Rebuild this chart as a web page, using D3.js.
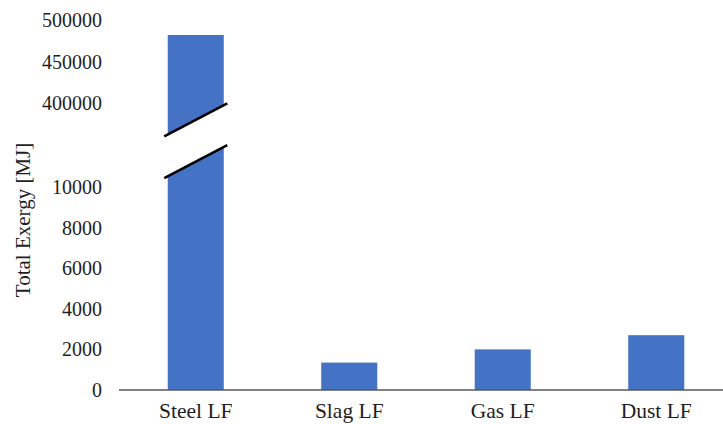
<!DOCTYPE html>
<html>
<head>
<meta charset="utf-8">
<script src="https://cdn.jsdelivr.net/npm/d3@7/dist/d3.min.js"></script>
<style>
  html, body { margin: 0; padding: 0; background: #fff; }
  svg { display: block; }
  text { font-family: "Liberation Serif", "Times New Roman", serif; fill: #1f1f1f; }
</style>
</head>
<body>
<svg id="chart" width="723" height="424"></svg>
<script>
// Total exergy of the ladle-furnace streams
const categories = ["Steel LF", "Slag LF", "Gas LF", "Dust LF"];
const exergy = [482000, 1350, 2000, 2700];

// Broken value axis: a low segment and a high segment
const lowTicks = [0, 2000, 4000, 6000, 8000, 10000];
const highTicks = [400000, 450000, 500000];
const lowDomain = [0, 10000];
const highDomain = [400000, 500000];
// Values at which the break marks sit on each segment
const breakLowValue = 11250;
const breakHighValue = 380000;

const svg = d3.select("#chart");
const W = 723, H = 424;

const x = d3.scaleBand()
  .domain(categories)
  .range([119, 733])
  .paddingInner(0.635)
  .paddingOuter(0.3175);

const yLow = d3.scaleLinear().domain(lowDomain).range([390, 187]);
const yHigh = d3.scaleLinear().domain(highDomain).range([103.3, 20]);

// Map a value onto whichever segment holds it
const yOf = v => v > breakLowValue ? yHigh(v) : yLow(v);

const barColor = "#4472c4";

// Bars
svg.append("g")
  .selectAll("rect")
  .data(categories.map((c, i) => ({ c, v: exergy[i] })))
  .join("rect")
  .attr("x", d => x(d.c))
  .attr("width", x.bandwidth())
  .attr("y", d => yOf(d.v))
  .attr("height", d => yLow(0) - yOf(d.v))
  .attr("fill", barColor);

// Break marks on bars that cross the gap
const rise = 16.5, over = 3.5;
const broken = categories.filter((c, i) => exergy[i] > breakLowValue);
const gBreak = svg.append("g");
broken.forEach(c => {
  const x0 = x(c) - over, x1 = x(c) + x.bandwidth() + over;
  const yu = yHigh(breakHighValue), yl = yLow(breakLowValue);
  gBreak.append("path")
    .attr("d", `M${x0},${yu + rise}L${x1},${yu - rise}L${x1},${yl - rise}L${x0},${yl + rise}Z`)
    .attr("fill", "#fff");
  [yu, yl].forEach(yc => {
    gBreak.append("line")
      .attr("x1", x0).attr("y1", yc + rise)
      .attr("x2", x1).attr("y2", yc - rise)
      .attr("stroke", "#000")
      .attr("stroke-width", 2.6);
  });
});

// Baseline
svg.append("line")
  .attr("x1", 119).attr("x2", W)
  .attr("y1", yLow(0)).attr("y2", yLow(0))
  .attr("stroke", "#595959")
  .attr("stroke-width", 1.5);

// Value axis labels (low and high segments)
const axisLow = d3.axisLeft(yLow).tickValues(lowTicks).tickSize(0).tickPadding(17).tickFormat(d3.format("d"));
const axisHigh = d3.axisLeft(yHigh).tickValues(highTicks).tickSize(0).tickPadding(17).tickFormat(d3.format("d"));
[axisLow, axisHigh].forEach(ax => {
  const g = svg.append("g").attr("transform", "translate(119,0)").call(ax);
  g.select(".domain").remove();
  g.selectAll("text")
    .style("font-family", "'Liberation Serif', 'Times New Roman', serif")
    .style("font-size", "20px")
    .attr("fill", "#1f1f1f");
});

// Category labels
const axisX = d3.axisBottom(x).tickSize(0).tickPadding(0);
const gx = svg.append("g").attr("transform", "translate(0,390)").call(axisX);
gx.select(".domain").remove();
gx.selectAll("text")
  .attr("dy", null)
  .attr("y", 27.5)
  .style("font-family", "'Liberation Serif', 'Times New Roman', serif")
  .style("font-size", "21.5px")
  .attr("fill", "#1f1f1f");

// Axis title
svg.append("text")
  .attr("transform", "translate(30,220) rotate(-90)")
  .attr("text-anchor", "middle")
  .style("font-size", "21px")
  .text("Total Exergy [MJ]");
</script>
</body>
</html>
